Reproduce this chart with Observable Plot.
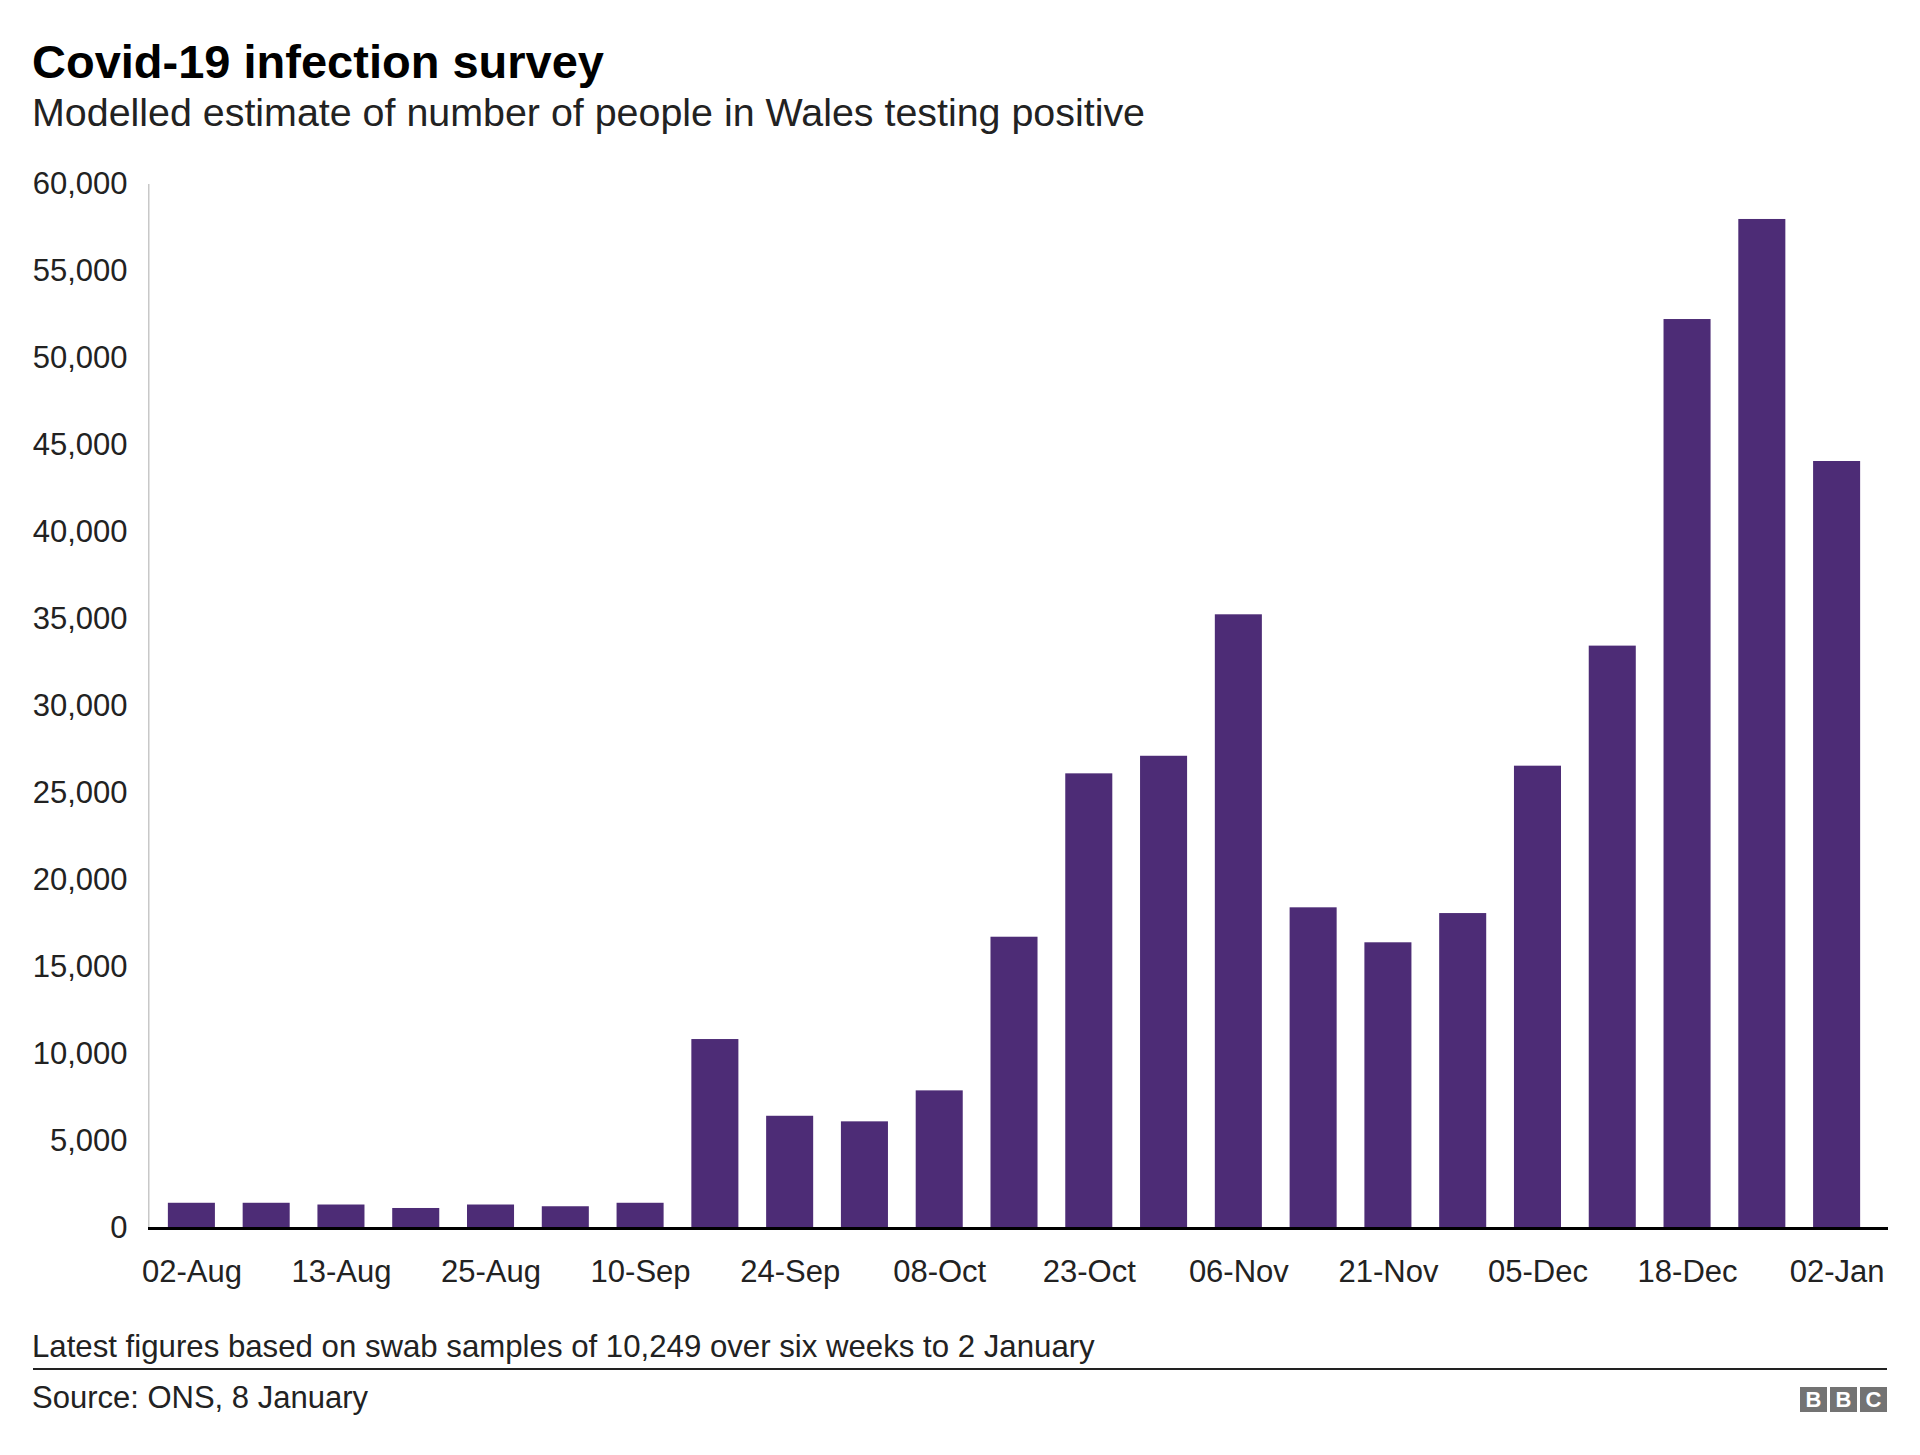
<!DOCTYPE html>
<html>
<head>
<meta charset="utf-8">
<script src="https://cdn.jsdelivr.net/npm/d3@7"></script>
<script src="https://cdn.jsdelivr.net/npm/@observablehq/plot@0.6"></script>
<style>
  html, body { margin: 0; padding: 0; background: #fff; }
  body { width: 1920px; height: 1455px; position: relative; overflow: hidden;
         font-family: "Liberation Sans", Arial, Helvetica, sans-serif; color: #222; }
  .abs { position: absolute; white-space: nowrap; }
  #title { left: 32px; top: 38px; font-size: 47px; line-height: 47px; font-weight: bold; color: #000; }
  #subtitle { left: 32px; top: 93px; font-size: 39.4px; line-height: 39px; color: #222; }
  #chart { left: 0; top: 140px; }
  #note { left: 32px; top: 1331px; font-size: 31.2px; line-height: 31px; color: #222; }
  #sep { left: 33px; top: 1368px; width: 1854px; height: 2px; background: #222; }
  #source { left: 32px; top: 1382px; font-size: 31px; line-height: 31px; color: #222; }
  #bbc { left: 1800px; top: 1387px; display: flex; gap: 3px; }
  #bbc div { width: 27px; height: 25px; background: #737373; color: #fff; font-weight: bold;
             font-size: 22px; line-height: 25px; text-align: center; }
</style>
</head>
<body>
<div id="title" class="abs">Covid-19 infection survey</div>
<div id="subtitle" class="abs">Modelled estimate of number of people in Wales testing positive</div>
<div id="chart" class="abs"></div>
<div id="note" class="abs">Latest figures based on swab samples of 10,249 over six weeks to 2 January</div>
<div id="sep" class="abs"></div>
<div id="source" class="abs">Source: ONS, 8 January</div>
<div id="bbc" class="abs"><div>B</div><div>B</div><div>C</div></div>
<script>
const dates = ["02-Aug", "07-Aug", "13-Aug", "19-Aug", "25-Aug", "02-Sep", "10-Sep", "17-Sep",
               "24-Sep", "01-Oct", "08-Oct", "16-Oct", "23-Oct", "30-Oct", "06-Nov", "14-Nov",
               "21-Nov", "28-Nov", "05-Dec", "11-Dec", "18-Dec", "26-Dec", "02-Jan"];
const values = [1450, 1450, 1350, 1150, 1350, 1250, 1450, 10860,
                6450, 6130, 7910, 16740, 26130, 27140, 35270, 18430,
                16420, 18100, 26570, 33470, 52240, 57990, 44080];
const xTickLabels = ["02-Aug", "13-Aug", "25-Aug", "10-Sep", "24-Sep", "08-Oct",
                     "23-Oct", "06-Nov", "21-Nov", "05-Dec", "18-Dec", "02-Jan"];
const yTicks = [0, 5000, 10000, 15000, 20000, 25000, 30000, 35000, 40000, 45000, 50000, 55000, 60000];

const data = dates.map((d, i) => ({date: d, value: values[i]}));

const axisLine = (index, scales, vals, dims) => {
  const g = d3.create("svg:g");
  g.append("line")
    .attr("x1", dims.marginLeft + 0.75).attr("x2", dims.marginLeft + 0.75)
    .attr("y1", scales.y(yTicks[yTicks.length - 1])).attr("y2", scales.y(0))
    .attr("stroke", "#c8c8c8").attr("stroke-width", 1.5);
  return g.node();
};

const chart = Plot.plot({
  width: 1920,
  height: 1170,
  marginTop: 44,
  marginBottom: 82,
  marginLeft: 148,
  marginRight: 32,
  style: {fontFamily: '"Liberation Sans", Arial, Helvetica, sans-serif', fontSize: "31px", color: "#222", background: "#fff"},
  x: {domain: dates, range: [154, 1874], paddingInner: 0.371, paddingOuter: 0.1855, round: false},
  y: {domain: [0, 60000]},
  marks: [
    axisLine,
    Plot.barY(data, {x: "date", y: "value", fill: "#4d2c76"}),
    Plot.ruleY([0], {stroke: "#000", strokeWidth: 3}),
    Plot.axisY(yTicks, {tickSize: 0, tickPadding: 21, tickFormat: d3.format(","), fontSize: 31, label: null, fill: "#222"}),
    Plot.axisX(xTickLabels, {tickSize: 0, tickPadding: 31, fontSize: 31, label: null, fill: "#222"})
  ]
});
document.getElementById("chart").appendChild(chart);
</script>
</body>
</html>
